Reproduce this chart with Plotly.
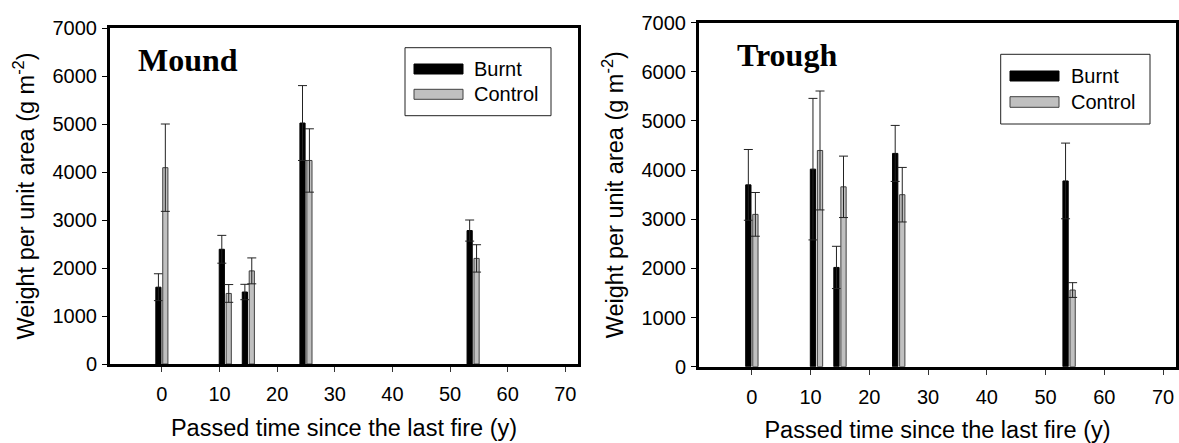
import plotly.graph_objects as go

# passed time since the last fire (y)
years = [0, 11, 15, 25, 54]

mound_burnt = [1600, 2390, 1500, 5020, 2780]
mound_burnt_err = [280, 290, 160, 780, 220]
mound_control = [4090, 1470, 1940, 4240, 2200]
mound_control_err = [910, 185, 270, 660, 285]

trough_burnt = [3700, 4020, 2020, 4340, 3780]
trough_burnt_err = [720, 1440, 430, 570, 770]
trough_control = [3100, 4400, 3660, 3500, 1560]
trough_control_err = [445, 1210, 625, 555, 150]

x_ticks = [0, 10, 20, 30, 40, 50, 60, 70]
y_ticks = [0, 1000, 2000, 3000, 4000, 5000, 6000, 7000]
panel_names = ["Mound", "Trough"]
series_names = ["Burnt", "Control"]

W, H = 1179, 443
SANS = "Liberation Sans, Arial, sans-serif"
SERIF = "Liberation Serif, Times New Roman, serif"
BURNT = "black"
CONTROL = "#c0c0c0"


def px(x):
    return x / W


def py(y):
    return 1 - y / H


fig = go.Figure()


def add_bars(xa, ya, burnt, burnt_err, control, control_err):
    fig.add_trace(go.Bar(
        x=years, y=burnt, name=series_names[0], xaxis=xa, yaxis=ya,
        width=0.9, offset=-1.05, showlegend=False,
        marker=dict(color=BURNT, line=dict(color="black", width=1)),
        error_y=dict(type="data", array=burnt_err, color="#222222",
                     thickness=1, width=4.5)))
    fig.add_trace(go.Bar(
        x=years, y=control, name=series_names[1], xaxis=xa, yaxis=ya,
        width=0.9, offset=0.15, showlegend=False,
        marker=dict(color=CONTROL, line=dict(color="#404040", width=1)),
        error_y=dict(type="data", array=control_err, color="#222222",
                     thickness=1, width=4.5)))


add_bars("x", "y", mound_burnt, mound_burnt_err, mound_control, mound_control_err)
add_bars("x2", "y2", trough_burnt, trough_burnt_err, trough_control, trough_control_err)

xaxis_common = dict(
    range=[-9, 72.2], tickvals=x_ticks, ticks="outside", ticklen=5,
    tickcolor="#333333", tickwidth=1, showline=True, linewidth=3,
    linecolor="black", mirror=True, showgrid=False, zeroline=False,
    tickfont=dict(family=SANS, size=20, color="black"),
    ticklabelstandoff=5, automargin=False,
    title=dict(text="Passed time since the last fire (y)",
               font=dict(family=SANS, size=23.5, color="black"), standoff=16),
)
yaxis_common = dict(
    range=[0, 7000], tickvals=y_ticks, ticks="outside", ticklen=5,
    tickcolor="black", tickwidth=1, showline=True, linewidth=3,
    linecolor="black", mirror=True, showgrid=False, zeroline=False,
    tickfont=dict(family=SANS, size=20, color="black"),
    ticklabelstandoff=1, automargin=False,
    title=dict(text="Weight per unit area (g m<sup>-2</sup>)",
               font=dict(family=SANS, size=23.5, color="black"), standoff=12),
)

fig.update_layout(
    width=W, height=H,
    margin=dict(l=0, r=0, t=0, b=0),
    paper_bgcolor="white", plot_bgcolor="white",
    showlegend=False,
    xaxis=dict(xaxis_common, domain=[px(110), px(578)], anchor="y"),
    yaxis=dict(yaxis_common, domain=[py(364), py(28)], anchor="x"),
    xaxis2=dict(xaxis_common, domain=[px(699), px(1176)], anchor="y2"),
    yaxis2=dict(yaxis_common, domain=[py(366.7), py(22.7)], anchor="x2"),
)

# panel labels
fig.add_annotation(text="<b>%s</b>" % panel_names[0], x=px(136), y=py(60),
                   xref="paper", yref="paper", xanchor="left", yanchor="middle",
                   showarrow=False, font=dict(family=SERIF, size=32, color="black"))
fig.add_annotation(text="<b>%s</b>" % panel_names[1], x=px(735), y=py(55),
                   xref="paper", yref="paper", xanchor="left", yanchor="middle",
                   showarrow=False, font=dict(family=SERIF, size=32, color="black"))


# hand-drawn legends with the wide swatches of the original
def add_legend(box, sw_x, sw_ys, text_x):
    x0, y0, x1, y1 = box
    fig.add_shape(type="rect", xref="paper", yref="paper",
                  x0=px(x0), x1=px(x1), y0=py(y1), y1=py(y0),
                  line=dict(color="#222222", width=1), fillcolor="white")
    fills = [BURNT, CONTROL]
    lines = ["black", "#404040"]
    for name, (ya, yb), fill, line in zip(series_names, sw_ys, fills, lines):
        fig.add_shape(type="rect", xref="paper", yref="paper",
                      x0=px(sw_x[0]), x1=px(sw_x[1]), y0=py(yb), y1=py(ya),
                      line=dict(color=line, width=1), fillcolor=fill)
        fig.add_annotation(text=name, x=px(text_x), y=py((ya + yb) / 2),
                           xref="paper", yref="paper", xanchor="left",
                           yanchor="middle", showarrow=False,
                           font=dict(family=SANS, size=20, color="black"))


add_legend((405, 47.7, 551, 115.7), (414, 463), [(64, 74), (89.3, 99.3)], 472)
add_legend((1000.7, 54.3, 1150, 124), (1010, 1059), [(71, 81), (96.7, 107.3)], 1069)

# the page body has a default 8px margin; drop it so the figure fills the window
fig.write_html("out.html", config={"displayModeBar": False},
               post_script="document.body.style.margin='0';")
